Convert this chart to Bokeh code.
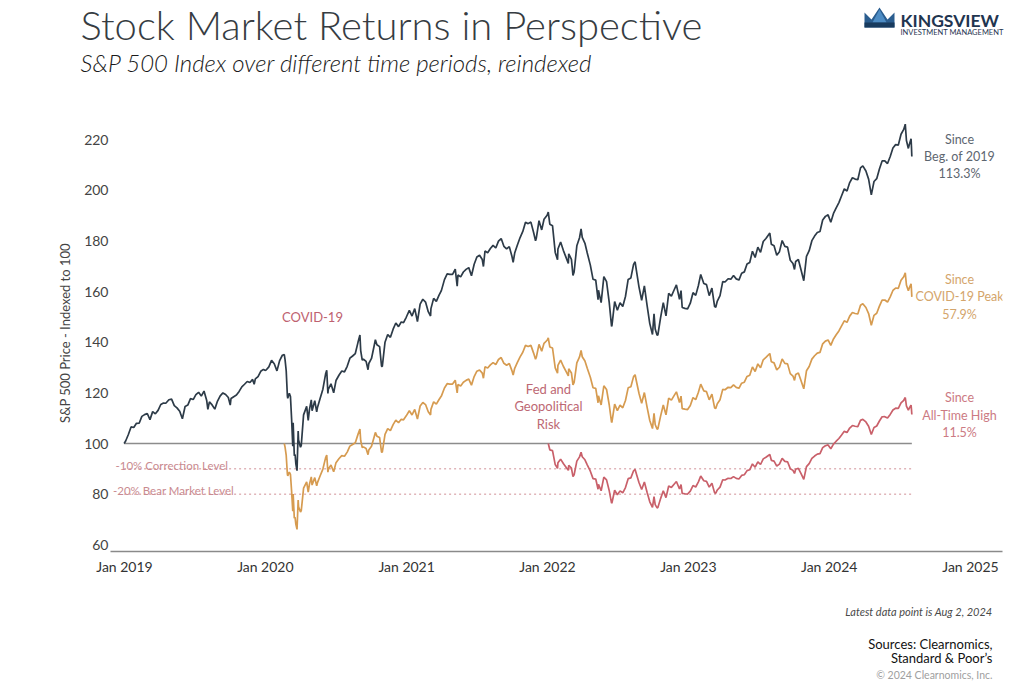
import pandas as pd
from bokeh.plotting import figure
from bokeh.layouts import column
from bokeh.models import Range1d, Label, FixedTicker, DatetimeTickFormatter
from bokeh.embed import file_html
from bokeh.resources import INLINE

DATES = [
    "2018-12-31",
    "2019-01-04","2019-01-11","2019-01-18","2019-01-25","2019-02-01","2019-02-08","2019-02-15","2019-02-22",
    "2019-03-01","2019-03-08","2019-03-15","2019-03-22","2019-03-29","2019-04-05","2019-04-12","2019-04-18",
    "2019-04-26","2019-05-03","2019-05-10","2019-05-17","2019-05-24","2019-05-31","2019-06-07","2019-06-14",
    "2019-06-21","2019-06-28","2019-07-05","2019-07-12","2019-07-19","2019-07-26","2019-08-02","2019-08-05",
    "2019-08-09","2019-08-16","2019-08-23","2019-08-30","2019-09-06","2019-09-13","2019-09-20","2019-09-27",
    "2019-10-02","2019-10-04","2019-10-11","2019-10-18","2019-10-25","2019-11-01","2019-11-08","2019-11-15",
    "2019-11-22","2019-11-29","2019-12-03","2019-12-06","2019-12-13","2019-12-20","2019-12-27","2019-12-31",
    "2020-01-03","2020-01-10","2020-01-17","2020-01-24","2020-01-31","2020-02-07","2020-02-14","2020-02-19",
    "2020-02-21","2020-02-24","2020-02-27","2020-02-28","2020-03-03","2020-03-06","2020-03-09","2020-03-12",
    "2020-03-13","2020-03-16","2020-03-18","2020-03-20","2020-03-23","2020-03-26","2020-03-27","2020-04-01",
    "2020-04-03","2020-04-09","2020-04-17","2020-04-21","2020-04-24","2020-04-29","2020-05-01","2020-05-08",
    "2020-05-13","2020-05-15","2020-05-22","2020-05-29","2020-06-05","2020-06-08","2020-06-11","2020-06-12",
    "2020-06-19","2020-06-26","2020-07-02","2020-07-10","2020-07-17","2020-07-24","2020-07-31","2020-08-07",
    "2020-08-14","2020-08-21","2020-08-28","2020-09-02","2020-09-04","2020-09-08","2020-09-11","2020-09-18",
    "2020-09-23","2020-09-25","2020-10-02","2020-10-09","2020-10-12","2020-10-16","2020-10-23","2020-10-28",
    "2020-10-30","2020-11-06","2020-11-13","2020-11-20","2020-11-27","2020-12-04","2020-12-11","2020-12-18",
    "2020-12-24","2020-12-31",
    "2021-01-08","2021-01-15","2021-01-22","2021-01-29","2021-02-05","2021-02-12","2021-02-19","2021-02-26",
    "2021-03-04","2021-03-05","2021-03-12","2021-03-19","2021-03-26","2021-04-01","2021-04-09","2021-04-16",
    "2021-04-23","2021-04-30","2021-05-07","2021-05-12","2021-05-14","2021-05-21","2021-05-28","2021-06-04",
    "2021-06-11","2021-06-18","2021-06-25","2021-07-02","2021-07-09","2021-07-16","2021-07-19","2021-07-23",
    "2021-07-30","2021-08-06","2021-08-13","2021-08-20","2021-08-27","2021-09-03","2021-09-10","2021-09-17",
    "2021-09-24","2021-10-01","2021-10-04","2021-10-08","2021-10-15","2021-10-22","2021-10-29","2021-11-05",
    "2021-11-12","2021-11-19","2021-11-26","2021-12-01","2021-12-03","2021-12-10","2021-12-17","2021-12-23",
    "2021-12-31",
    "2022-01-03","2022-01-07","2022-01-14","2022-01-21","2022-01-27","2022-01-28","2022-02-04","2022-02-11",
    "2022-02-18","2022-02-24","2022-02-25","2022-03-04","2022-03-08","2022-03-11","2022-03-18","2022-03-25",
    "2022-03-29","2022-04-01","2022-04-08","2022-04-14","2022-04-22","2022-04-29","2022-05-06","2022-05-12",
    "2022-05-13","2022-05-20","2022-05-27","2022-06-03","2022-06-10","2022-06-16","2022-06-17","2022-06-24",
    "2022-07-01","2022-07-08","2022-07-15","2022-07-22","2022-07-29","2022-08-05","2022-08-12","2022-08-16",
    "2022-08-19","2022-08-26","2022-09-02","2022-09-09","2022-09-16","2022-09-23","2022-09-30","2022-10-04",
    "2022-10-07","2022-10-12","2022-10-14","2022-10-21","2022-10-28","2022-11-04","2022-11-11","2022-11-18",
    "2022-11-25","2022-12-01","2022-12-09","2022-12-13","2022-12-16","2022-12-23","2022-12-30",
    "2023-01-06","2023-01-13","2023-01-20","2023-01-27","2023-02-02","2023-02-10","2023-02-17","2023-02-24",
    "2023-03-03","2023-03-10","2023-03-13","2023-03-17","2023-03-24","2023-03-31","2023-04-06","2023-04-14",
    "2023-04-21","2023-04-28","2023-05-05","2023-05-12","2023-05-19","2023-05-26","2023-06-02","2023-06-09",
    "2023-06-16","2023-06-23","2023-06-30","2023-07-07","2023-07-14","2023-07-21","2023-07-31","2023-08-04",
    "2023-08-11","2023-08-18","2023-08-25","2023-09-01","2023-09-08","2023-09-15","2023-09-22","2023-09-29",
    "2023-10-03","2023-10-06","2023-10-13","2023-10-20","2023-10-27","2023-11-03","2023-11-10","2023-11-17",
    "2023-11-24","2023-12-01","2023-12-08","2023-12-15","2023-12-22","2023-12-29",
    "2024-01-05","2024-01-12","2024-01-19","2024-01-26","2024-02-02","2024-02-09","2024-02-16","2024-02-23",
    "2024-03-01","2024-03-08","2024-03-15","2024-03-22","2024-03-28","2024-04-05","2024-04-12","2024-04-19",
    "2024-04-26","2024-05-03","2024-05-10","2024-05-17","2024-05-24","2024-05-31","2024-06-07","2024-06-14",
    "2024-06-21","2024-06-28","2024-07-05","2024-07-12","2024-07-16","2024-07-19","2024-07-24","2024-07-26",
    "2024-07-31","2024-08-01","2024-08-02",
]

CLOSES = [
    2506.85,
    2531.94, 2596.26, 2670.71, 2664.76, 2706.53, 2707.88, 2775.60, 2792.67,
    2803.69, 2743.07, 2822.48, 2800.71, 2834.40, 2892.74, 2907.41, 2905.03,
    2939.88, 2945.64, 2881.40, 2859.53, 2826.06, 2752.06, 2873.34, 2886.98,
    2950.46, 2941.76, 2990.41, 3013.77, 2976.61, 3025.86, 2932.05, 2844.74,
    2918.65, 2888.68, 2847.11, 2926.46, 2978.71, 3007.39, 2992.07, 2961.79,
    2887.61, 2952.01, 2970.27, 2986.20, 3022.55, 3066.91, 3093.08, 3120.46,
    3110.29, 3140.98, 3093.20, 3145.91, 3168.80, 3221.22, 3240.02, 3230.78,
    3234.85, 3265.35, 3329.62, 3295.47, 3225.52, 3327.71, 3380.16, 3386.15,
    3337.75, 3225.89, 2978.76, 2954.22, 3003.37, 2972.37, 2746.56, 2480.64,
    2711.02, 2386.13, 2398.10, 2304.92, 2237.40, 2630.07, 2541.47, 2470.50,
    2488.65, 2789.82, 2874.56, 2736.56, 2836.74, 2939.51, 2830.71, 2929.80,
    2820.00, 2863.70, 2955.45, 3044.31, 3193.93, 3232.39, 3002.10, 3041.31,
    3097.74, 3009.05, 3130.01, 3185.04, 3224.73, 3215.63, 3271.12, 3351.28,
    3372.85, 3397.16, 3508.01, 3580.84, 3426.96, 3331.84, 3340.97, 3319.47,
    3236.92, 3298.46, 3348.44, 3477.13, 3534.22, 3483.81, 3465.39, 3271.03,
    3269.96, 3509.44, 3585.15, 3557.54, 3638.35, 3699.12, 3663.46, 3709.41,
    3703.06, 3756.07,
    3824.68, 3768.25, 3841.47, 3714.24, 3886.83, 3934.83, 3906.71, 3811.15,
    3768.47, 3841.94, 3943.34, 3913.10, 3974.54, 4019.87, 4128.80, 4185.47,
    4180.17, 4181.17, 4232.60, 4063.04, 4173.85, 4155.86, 4204.11, 4229.89,
    4247.44, 4166.45, 4280.70, 4352.34, 4369.55, 4327.16, 4258.49, 4411.79,
    4395.26, 4436.52, 4468.00, 4441.67, 4509.37, 4535.43, 4458.58, 4432.99,
    4455.48, 4357.04, 4300.46, 4391.34, 4471.37, 4544.90, 4605.38, 4697.53,
    4682.85, 4697.96, 4594.62, 4513.04, 4538.43, 4712.02, 4620.64, 4725.79,
    4766.18,
    4796.56, 4677.03, 4662.85, 4397.94, 4326.51, 4431.85, 4500.53, 4418.64,
    4348.87, 4288.70, 4384.65, 4328.87, 4170.70, 4204.31, 4463.12, 4543.06,
    4631.60, 4545.86, 4488.28, 4392.59, 4271.78, 4131.93, 4123.34, 3930.08,
    4023.89, 3901.36, 4158.24, 4108.54, 3900.86, 3666.77, 3674.84, 3911.74,
    3825.33, 3899.38, 3863.16, 3961.63, 4130.29, 4145.19, 4280.15, 4305.20,
    4228.48, 4057.66, 3924.26, 4067.36, 3873.33, 3693.23, 3585.62, 3790.93,
    3639.66, 3577.03, 3583.07, 3752.75, 3901.06, 3770.55, 3992.93, 3965.34,
    4026.12, 4076.57, 3934.38, 4019.65, 3852.36, 3844.82, 3839.50,
    3895.08, 3999.09, 3972.61, 4070.56, 4179.76, 4090.46, 4079.09, 3970.04,
    4045.64, 3861.59, 3855.76, 3916.64, 3970.99, 4109.31, 4105.02, 4137.64,
    4133.52, 4169.48, 4136.25, 4124.08, 4191.98, 4205.45, 4282.37, 4298.86,
    4409.59, 4348.33, 4450.38, 4398.95, 4505.42, 4536.34, 4588.96, 4478.03,
    4464.05, 4369.71, 4405.71, 4515.77, 4457.49, 4450.32, 4320.06, 4288.05,
    4229.45, 4308.50, 4327.78, 4224.16, 4117.37, 4358.34, 4415.24, 4514.02,
    4559.34, 4594.63, 4604.37, 4719.19, 4754.63, 4769.83,
    4697.24, 4783.83, 4839.81, 4890.97, 4958.61, 5026.61, 5005.57, 5088.80,
    5137.08, 5123.69, 5117.09, 5234.18, 5254.35, 5204.34, 5123.41, 4967.23,
    5099.96, 5127.79, 5222.68, 5303.27, 5304.72, 5277.51, 5346.99, 5431.60,
    5464.62, 5460.48, 5567.19, 5615.35, 5667.20, 5505.00, 5427.13, 5459.10,
    5522.30, 5446.68, 5346.56,
]

BASE_DATES = ["2018-12-31", "2020-02-19", "2022-01-03"]   # beg. 2019, COVID peak, all-time high
LEVELS = [100, 90, 80]                                   # index base, -10%, -20%
Y_TICKS = [60, 80, 100, 120, 140, 160, 180, 200, 220]
X_TICK_YEARS = [2019, 2020, 2021, 2022, 2023, 2024, 2025]

# ---------------- reindexing ----------------
d = pd.to_datetime(pd.Series(DATES))
c = pd.Series(CLOSES)
series = []
for b in BASE_DATES:
    m = d >= pd.Timestamp(b)
    base = c[m].iloc[0]
    series.append((d[m], c[m] / base * 100.0))

# ---------------- layout helpers (page pixel -> data) ----------------
W = 1029
HEAD_H, MAIN_H = 100, 490
FOOT_H = 691 - HEAD_H - MAIN_H
ORIGIN = pd.Timestamp("2019-01-01")
X0PX = 124.0
PXDAY = 846.0 / 2192.0
FONT = "Lato"


def xd(px):
    return (ORIGIN + pd.Timedelta(days=(px - X0PX) / PXDAY)).value / 1e6


def yd(py):
    return 100.0 + (443.0 - py) / 2.533


def blank(h, y0):
    f = figure(width=W, height=h, x_range=Range1d(0, W), y_range=Range1d(y0 + h, y0),
               x_axis_location=None, y_axis_location=None, output_backend="svg",
               toolbar_location=None, min_border=0, frame_align=False)
    f.outline_line_color = None
    f.grid.visible = False
    return f


def lab(fig, text, x, y, size, color, align="left", baseline="middle", style="normal", font=FONT):
    fig.add_layout(Label(x=x, y=y, text=text, text_font=font, text_font_size=f"{size}px",
                         text_color=color, text_align=align, text_baseline=baseline,
                         text_font_style=style))


# ---------------- header ----------------
head = blank(HEAD_H, 0)
lab(head, "Stock Market Returns in Perspective", 80, 24.5, 40, "#363c42", baseline="alphabetic",
    font="Lato Light")
lab(head, "S&P 500 Index over different time periods, reindexed", 80, 62, 24, "#1a1a1a",
    baseline="alphabetic", style="italic", font="Lato Light")
head.patch([864, 871, 879, 887, 894, 894, 864], [12, 19, 7, 19, 12, 27, 27],
           fill_color="#2a5d8f", line_color=None)
head.patch([872, 879, 886], [22, 9, 22], fill_color="#4d8cc4", line_color=None)
head.patch([864, 894, 894, 864], [22, 22, 27, 27], fill_color="#183b5e", line_color=None)
lab(head, "KINGSVIEW", 900, 19.5, 17.5, "#1f3550", baseline="alphabetic", style="bold")
lab(head, "INVESTMENT MANAGEMENT", 900, 31.5, 7.5, "#1f3550", baseline="alphabetic")

# ---------------- main chart ----------------
p = figure(width=W, height=MAIN_H, x_axis_type="datetime",
           x_range=Range1d(xd(110), xd(1002)), y_range=Range1d(yd(551), yd(114)),
           output_backend="svg", toolbar_location=None, frame_align=False,
           min_border_left=110, min_border_right=W - 1002,
           min_border_top=114 - HEAD_H, min_border_bottom=HEAD_H + MAIN_H - 551)
p.outline_line_color = None
p.grid.visible = False

p.xaxis.ticker = FixedTicker(ticks=[pd.Timestamp(f"{y}-01-01").value / 1e6 for y in X_TICK_YEARS])
p.xaxis.formatter = DatetimeTickFormatter(years="%b %Y", months="%b %Y", days="%b %Y")
p.xaxis.axis_line_color = "#8a8a8a"
p.xaxis.axis_line_width = 1.5
p.xaxis.major_tick_line_color = None
p.xaxis.minor_tick_line_color = None
p.xaxis.major_tick_out = 0
p.xaxis.major_tick_in = 0
p.xaxis.major_label_standoff = 6
p.xaxis.major_label_text_font = FONT
p.xaxis.major_label_text_font_size = "14px"
p.xaxis.major_label_text_color = "#333333"

p.yaxis.ticker = FixedTicker(ticks=Y_TICKS)
p.yaxis.axis_line_color = None
p.yaxis.major_tick_line_color = None
p.yaxis.minor_tick_line_color = None
p.yaxis.major_tick_out = 0
p.yaxis.major_tick_in = 0
p.yaxis.major_label_standoff = 2
p.yaxis.major_label_text_font = FONT
p.yaxis.major_label_text_font_size = "14px"
p.yaxis.major_label_text_color = "#444444"
p.yaxis.axis_label = "S&P 500 Price - Indexed to 100"
p.yaxis.axis_label_text_font = FONT
p.yaxis.axis_label_text_font_size = "13px"
p.yaxis.axis_label_text_font_style = "normal"
p.yaxis.axis_label_text_color = "#444444"
p.yaxis.axis_label_standoff = 8

# reference levels
x_start, x_end = d.iloc[0], d.iloc[-1]
p.segment(x0=[x_start], x1=[x_end], y0=[LEVELS[0]], y1=[LEVELS[0]], line_color="#8c8c8c", line_width=1.5)
p.segment(x0=[x_start, x_start], x1=[x_end, x_end], y0=LEVELS[1:], y1=LEVELS[1:],
          line_color="#d08f95", line_width=1, line_dash="2 3")

# series
COLORS = ["#2d3b48", "#d69b50", "#c9606a"]
for (sx, sy), col in zip(series, COLORS):
    p.line(sx, sy, line_color=col, line_width=1.7)


def plab(text, xpx, ypx, size, color, **kw):
    lab(p, text, xd(xpx), yd(ypx), size, color, **kw)


for txt, ypx in [("Since", 139), ("Beg. of 2019", 156), ("113.3%", 173)]:
    plab(txt, 959, ypx, 12.5, "#5d6670", align="center")
for txt, ypx in [("Since", 279), ("COVID-19 Peak", 296), ("57.9%", 314)]:
    plab(txt, 959, ypx, 12.5, "#d4a56b", align="center")
for txt, ypx in [("Since", 397), ("All-Time High", 415), ("11.5%", 432)]:
    plab(txt, 959, ypx, 12.5, "#cc7a83", align="center")

plab("COVID-19", 312, 316, 13, "#be6270", align="center")
for txt, ypx in [("Fed and", 388), ("Geopolitical", 405.5), ("Risk", 423)]:
    plab(txt, 548, ypx, 13, "#bd6873", align="center")

plab("-10% Correction Level", 115, 464.5, 11.5, "#c98a8f", baseline="alphabetic")
plab("-20% Bear Market Level", 112.5, 489.5, 11.5, "#c98a8f", baseline="alphabetic")

# ---------------- footer ----------------
foot = blank(FOOT_H, HEAD_H + MAIN_H)
lab(foot, "Latest data point is Aug 2, 2024", 992, 611, 11, "#4a4a4a", align="right", style="italic")
lab(foot, "Sources: Clearnomics,", 992, 643, 13, "#111111", align="right")
lab(foot, "Standard & Poor\u2019s", 992, 657, 13, "#111111", align="right")
lab(foot, "\u00a9 2024 Clearnomics, Inc.", 992, 674, 10.5, "#a0a0a0", align="right")

layout = column(head, p, foot, spacing=0)
open("out.html", "w").write(file_html(layout, INLINE))
